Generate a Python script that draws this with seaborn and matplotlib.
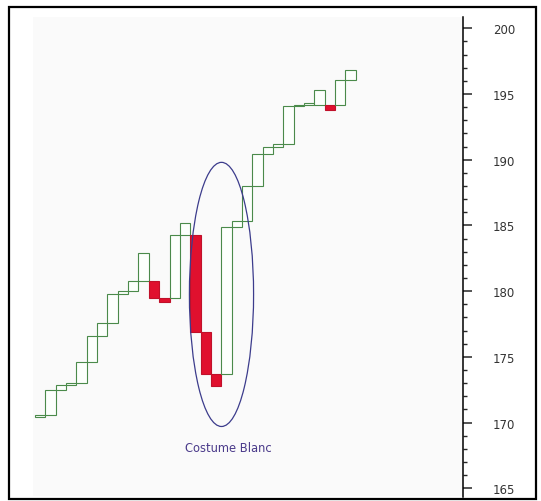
import seaborn as sns
import matplotlib.pyplot as plt
import numpy as np
import pandas as pd
from matplotlib.patches import Ellipse, Rectangle
from matplotlib.ticker import FixedLocator

# line-break bricks (open -> close)
opens = [170.4, 170.6, 172.5, 172.85, 173.0, 174.6, 176.6, 177.6, 179.8, 180.0,
         180.8, 180.8, 179.5, 179.5, 184.3, 184.3, 176.9, 173.7, 173.7, 184.9,
         185.3, 188.0, 190.4, 191.0, 191.2, 194.1, 194.2, 194.2, 194.2, 194.2,
         196.1]
closes = [170.6, 172.5, 172.85, 173.0, 174.6, 176.6, 177.6, 179.8, 180.0, 180.8,
          182.9, 179.5, 179.2, 184.3, 185.2, 176.9, 173.7, 172.8, 184.9, 185.3,
          188.0, 190.4, 191.0, 191.2, 194.1, 194.2, 194.3, 195.3, 193.8, 196.1,
          196.8]
major_ticks = [165, 170, 175, 180, 185, 190, 195, 200]
minor_ticks = list(range(165, 201))
note = "Costume Blanc"

df = pd.DataFrame({"brick": np.arange(len(opens)), "open": opens, "close": closes})
df["low"] = df[["open", "close"]].min(axis=1)
df["size"] = (df["close"] - df["open"]).abs()
df["up"] = df["close"] >= df["open"]

sns.set_style("white")
fig = plt.figure(figsize=(5.41, 5.02), dpi=100)
ax = fig.add_axes([0, 0, 1, 1])
ax.set_facecolor("none")

# faint plot background (behind the axes) and outer frame
bg = Rectangle((33 / 541, 5 / 502), (463 - 33) / 541, (484 - 5) / 502,
               transform=fig.transFigure, facecolor="#fafafa", edgecolor="none")
bg.set_zorder(-10)
fig.patches.append(bg)
frame = Rectangle((9 / 541, 2 / 502), (536 - 9) / 541, (494 - 2) / 502,
                  transform=fig.transFigure, facecolor="none",
                  edgecolor="black", linewidth=1.6)
frame.set_zorder(10)
fig.patches.append(frame)

sns.barplot(data=df, x="brick", y="size", bottom=df["low"].values, width=1,
            errorbar=None, ax=ax, color="white", saturation=1,
            linewidth=0.8, zorder=3)

for p, up in zip(ax.patches, df["up"]):
    if up:
        p.set_facecolor("#fcfffc")
        p.set_edgecolor("#4a8a4a")
    else:
        p.set_facecolor("#e0102e")
        p.set_edgecolor("#c0102a")

ax.add_patch(Ellipse((17.52, 179.75), 6.2, 20.1, facecolor="none",
                     edgecolor="#3c3c8c", linewidth=0.9, zorder=4))
ax.text(18.15, 168.1, note, ha="center", va="center", fontsize=8.3,
        color="#4a3a8a", family="DejaVu Sans")

ax.set_xlim(-3.88, 48.39)
ax.set_ylim(164.03, 202.23)
ax.set_xticks([])
ax.set_xlabel("")
ax.set_ylabel("")

for s in ["left", "top", "bottom"]:
    ax.spines[s].set_visible(False)
ax.spines["right"].set_position(("data", 40.85))
ax.spines["right"].set_bounds(164.3, 200.86)
ax.spines["right"].set_color("black")
ax.spines["right"].set_linewidth(1.1)
ax.spines["right"].set_visible(True)

ax.yaxis.tick_right()
ax.set_yticks(major_ticks)
ax.yaxis.set_minor_locator(FixedLocator(minor_ticks))
ax.tick_params(axis="y", which="major", direction="out", length=6.5, width=1.1,
               pad=15, labelsize=8.5, labelcolor="#333333", right=True, left=False)
ax.tick_params(axis="y", which="minor", direction="out", length=3, width=1.0,
               right=True, left=False)

fig.savefig("out.png", dpi=100)
